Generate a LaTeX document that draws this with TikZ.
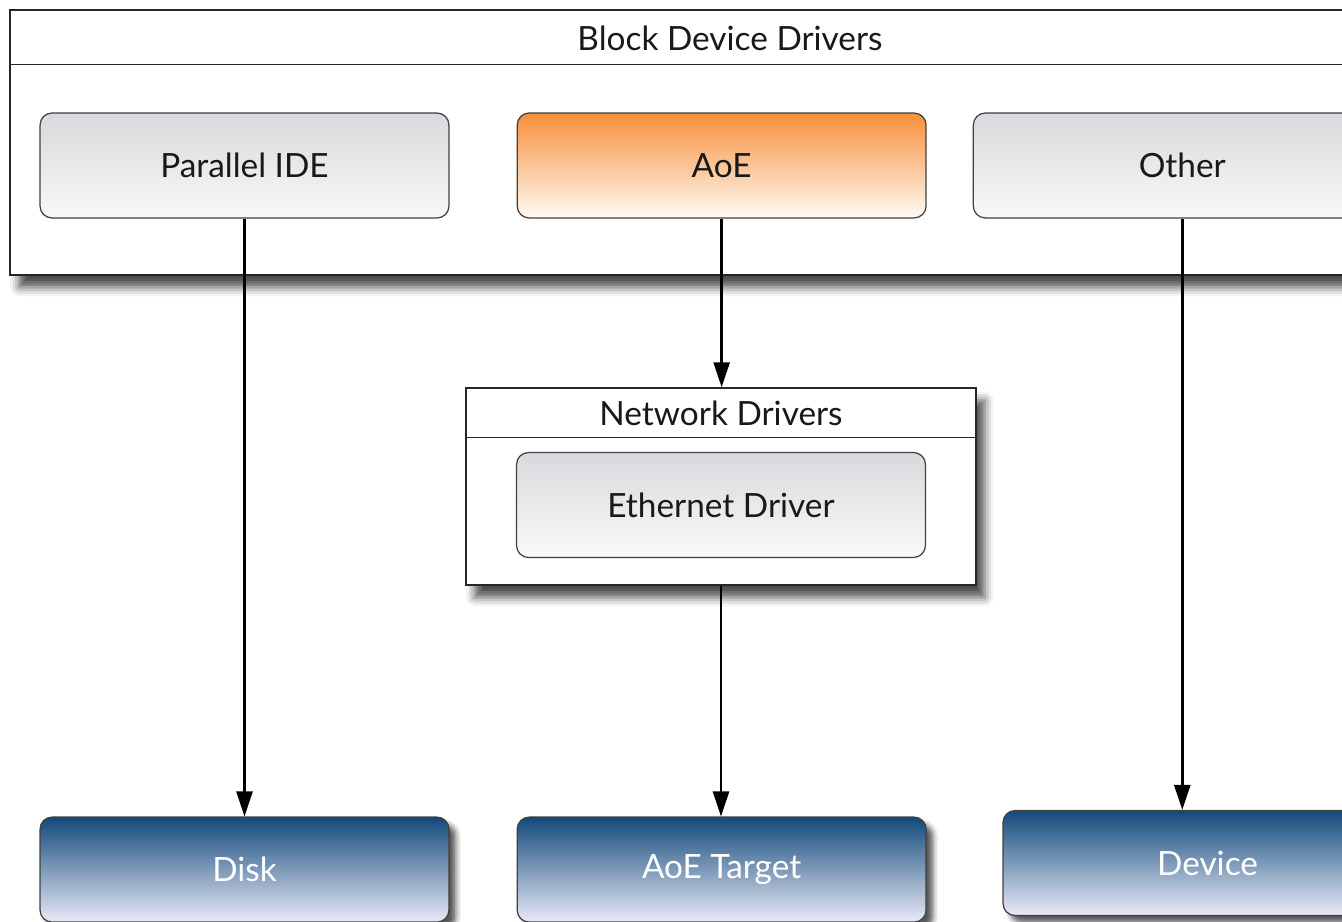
\documentclass[tikz,border=0pt]{standalone}
\usepackage{fontspec}
\setmainfont{Lato}
\usetikzlibrary{positioning,shadows.blur,arrows.meta}

\definecolor{graytop}{RGB}{216,217,220}
\definecolor{graybot}{RGB}{249,249,249}
\definecolor{aoetop}{RGB}{247,143,58}
\definecolor{aoebot}{RGB}{255,250,244}
\definecolor{bluetop}{RGB}{18,74,124}
\definecolor{bluemid}{RGB}{40,80,134}
\definecolor{bluebot}{RGB}{234,234,246}

\begin{document}
\begin{tikzpicture}[x=0.02cm, y=-0.02cm,
lane/.style={rectangle,draw=black!85,line width=0.8pt,fill=white,
  blur shadow={shadow xshift=5pt,shadow yshift=-7pt,shadow blur radius=5pt,shadow opacity=70}},
lane title/.style={font=\fontsize{19}{22}\selectfont,text=black!90},
main node/.style={rectangle,rounded corners=0.24cm,draw=black!75,line width=0.7pt,
  minimum width=8.18cm,minimum height=2.1cm,font=\fontsize{19}{22}\selectfont},
gray node/.style={main node,top color=graytop,bottom color=graybot,text=black!90},
orange node/.style={main node,top color=aoetop,bottom color=aoebot,text=black!90},
blue node/.style={main node,top color=bluetop,middle color=bluemid,bottom color=bluebot,text=white,
  blur shadow={shadow xshift=4pt,shadow yshift=-4pt,shadow blur radius=3pt,shadow opacity=65}},
arrow/.style={-{Triangle[length=0.5cm,width=0.32cm]},line width=1.4pt}]

\useasboundingbox (0,0) rectangle (1342,922);

% block device drivers
\node[lane,minimum width=28.8cm,minimum height=5.3cm] (bdd) at (730,142.5) {};
\draw[black!85,line width=0.8pt] ([yshift=-1.1cm]bdd.north west) -- ([yshift=-1.1cm]bdd.north east);
\node[lane title] (bddtitle) at (730,38) {Block Device Drivers};

\node[gray node] (pide) at (244.5,165.5) {Parallel IDE};
\node[orange node] (aoe) [right=1.34cm of pide] {AoE};
\node[gray node,minimum width=8.36cm] (other) [right=0.92cm of aoe] {Other};

% network drivers
\node[lane,minimum width=10.2cm,minimum height=3.94cm] (ndrv) at (721,486.5) {};
\draw[black!85,line width=0.8pt] ([yshift=-1cm]ndrv.north west) -- ([yshift=-1cm]ndrv.north east);
\node[lane title] (ndrvtitle) at (721,413) {Network Drivers};
\node[gray node] (eth) at (721,505) {Ethernet Driver};

% targets
\node[blue node] (disk) [below=11.96cm of pide] {Disk};
\node[blue node] (target) [below=11.96cm of aoe] {AoE Target};
\node[blue node] (device) at (1207.5,863) {Device};

\foreach \a/\b in {pide/disk,aoe/ndrv,ndrv/target,other/device}
\draw[arrow] (\a) -- (\a |- \b.north);
\end{tikzpicture}
\end{document}
